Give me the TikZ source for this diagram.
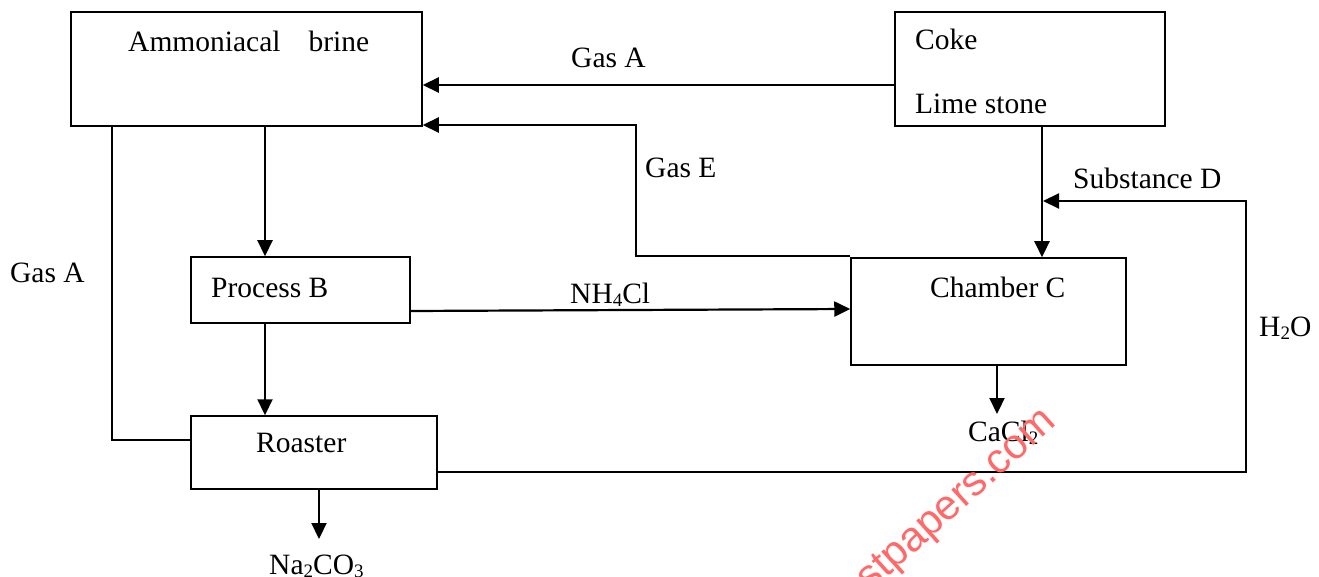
\documentclass[tikz,border=0pt]{standalone}
\usepackage{fontspec}
\setmainfont{Liberation Serif}
\newfontfamily\wmfont{Liberation Sans}
\usetikzlibrary{arrows.meta}
\newcommand{\chemsub}[1]{\raisebox{-0.28ex}{\fontsize{19}{19}\selectfont #1}}
\definecolor{wmred}{RGB}{255,105,105}
\tikzset{
  box/.style={draw, line width=1.5pt, inner sep=0pt, minimum width=#1},
  conn/.style={line width=1.6pt},
  flow/.style={line width=2.2pt, -{Triangle[length=16pt,width=15pt]}},
  lbl/.style={anchor=base west, inner sep=0pt, font=\fontsize{29.5}{34}\selectfont},
}
\begin{document}
\begin{tikzpicture}[x=1pt,y=-1pt]
\useasboundingbox (0,0) rectangle (1319,577);
% boxes
\node[box=351pt, minimum height=114pt] (amm) at (246.5,69) {};
\node[box=270pt, minimum height=114pt] (coke) at (1030,69) {};
\node[box=219pt, minimum height=66pt] (procB) at (300.5,290) {};
\node[box=275pt, minimum height=107pt] (chamb) at (988.5,311.5) {};
\node[box=246pt, minimum height=73pt] (roast) at (314,452.5) {};
% box texts
\node[lbl] (tAmm) at (128,52) {Ammoniacal\hspace{0.95em}brine};
\node[lbl] (tCoke) at (915,50) {Coke};
\node[lbl] (tLime) at (915,114) {Lime stone};
\node[lbl] (tProc) at (211,297) {Process B};
\node[lbl] (tCham) at (930,297) {Chamber C};
\node[lbl] (tRoast) at (256,452) {Roaster};
% connector labels
\node[lbl] (lGasA) at (571,68) {Gas A};
\node[lbl] (lGasE) at (645,178) {Gas E};
\node[lbl] (lNH) at (570,303) {NH\chemsub{4}Cl};
\node[lbl] (lSubD) at (1073,189) {Substance D};
\node[lbl] (lH2O) at (1259,336) {H\chemsub{2}O};
\node[lbl] (lCaCl) at (968,441) {CaCl\chemsub{2}};
\node[lbl] (lNa) at (269,574) {Na\chemsub{2}CO\chemsub{3}};
\node[lbl] (lGasA2) at (10,283) {Gas A};
% helper coordinates
\coordinate (eTop) at (636,125);
\coordinate (eBot) at (636,256);
\coordinate (dTop) at (1246,201);
\coordinate (dBot) at (1246,472);
\coordinate (aBot) at (112,440);
% connectors
\draw[flow] (coke.west |- 0,85) -- (amm.east |- 0,85);
\draw[flow] (chamb.west |- eBot) -- (eBot) -- (eTop) -- (amm.east |- eTop);
\draw[flow] (amm.south -| 265,0) -- (procB.north -| 265,0);
\draw[flow] (procB.south -| 265,0) -- (roast.north -| 265,0);
\draw[flow] (procB.east |- 0,311) -- (chamb.west |- 0,309);
\draw[flow] (coke.south -| 1042,0) -- (chamb.north -| 1042,0);
\draw[flow] (roast.east |- dBot) -- (dBot) -- (dTop) -- (1043,201);
\draw[flow] (chamb.south -| 997,0) -- (997,414);
\draw[flow] (roast.south -| 319,0) -- (319,539);
\draw[conn] (amm.south -| aBot) -- (aBot) -- (roast.west |- aBot);
% watermark
\node[anchor=base east, rotate=42, inner sep=0pt, text=wmred,
      font=\wmfont\fontsize{42}{44}\selectfont] (wm) at (1058,424) {stpapers.com};
\end{tikzpicture}
\end{document}
